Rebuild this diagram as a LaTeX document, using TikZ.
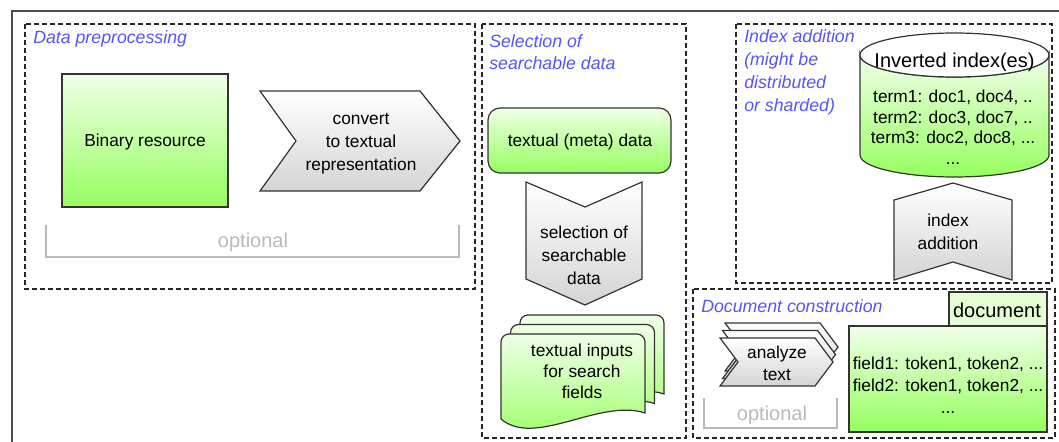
\documentclass[tikz,border=0pt]{standalone}
\usepackage{fontspec}
\setmainfont{Liberation Sans}
\usetikzlibrary{positioning}
\definecolor{titleblue}{RGB}{85,85,250}
\definecolor{greentop}{RGB}{240,255,232}
\definecolor{greenbot}{RGB}{150,255,95}
\definecolor{greybot}{RGB}{212,212,212}
\definecolor{tabgreen}{RGB}{228,255,212}
\definecolor{optgray}{RGB}{185,185,185}

\begin{document}
\begin{tikzpicture}[x=0.75pt, y=-0.75pt, font=\fontsize{13}{16.5}\selectfont,
  group box/.style={draw=black!85, dash pattern=on 3.5pt off 2.5pt, line width=0.8pt},
  group title/.style={anchor=north west, inner sep=0pt, align=left, text=titleblue,
    font=\fontsize{13.3}{17}\selectfont\itshape},
  green fill/.style={draw=black!80, line width=0.9pt, top color=greentop, bottom color=greenbot},
  grey fill/.style={draw=black!80, line width=0.9pt, top color=white, bottom color=greybot},
  step text/.style={align=center, inner sep=0pt},
  optional bar/.style={draw=optgray, line width=2.2pt},
  optional text/.style={text=optgray, inner sep=0pt, font=\fontsize{15}{18}\selectfont}]
\useasboundingbox (0,0) rectangle (1059,442);
% outer frame
\draw[black!70, line width=0.8pt] (12,442) -- (12,11) -- (1059,11);
% groups
\draw[group box] (25,24) rectangle (475,289);
\draw[group box] (482,24) rectangle (686,438);
\draw[group box] (736,24) rectangle (1052,283);
\draw[group box] (693,289) rectangle (1055,438);
\node[group title] (prep-title) at (33,30) {Data preprocessing};
\node[group title] (select-title) at (489,34) {Selection of\\searchable data};
\node[group title, font=\fontsize{13.3}{17.25}\selectfont\itshape] (index-title) at (744,29)
  {Index addition\\(might be\\distributed\\or sharded)};
\node[group title] (doc-title) at (701,299) {Document construction};

% data preprocessing
\node[green fill, minimum width=124.5pt, minimum height=99.75pt] (binary) at (145,140.5) {};
\node[inner sep=0pt] (binary-text) at (145,142) {Binary resource};
\path[grey fill] (260,91) -- (420,91) -- (460,141) -- (420,191) -- (260,191) -- (296,141) -- cycle;
\node[step text, font=\fontsize{13}{17.25}\selectfont] (convert) at (361,144) {convert\\to textual\\representation};
\draw[optional bar] (46,225) -- (46,257) -- (459,257) -- (459,225);
\node[optional text] (prep-optional) at (253,242) {optional};

% selection of searchable data
\node[green fill, rounded corners=9pt, minimum width=137.25pt, minimum height=48.75pt] (meta) at (579.5,140.5) {};
\node[inner sep=0pt] (meta-text) at (580,142) {textual (meta) data};
\path[grey fill] (526,182) -- (585,207) -- (642,182) -- (642,279) -- (585,305) -- (526,279) -- cycle;
\node[step text, font=\fontsize{13}{17.25}\selectfont] (selection) at (584,255) {selection of\\searchable\\data};
\foreach \d in {19,9.5,0}
  \path[green fill, shift={(\d,-\d)}] (501,419) -- (501,342) arc[start angle=180, end angle=270, radius=8]
    -- (637,334) arc[start angle=270, end angle=360, radius=8] -- (645,413)
    .. controls (600,398) and (535,448) .. (501,419) -- cycle;
\node[step text, font=\fontsize{13}{15.75}\selectfont] (inputs) at (582,371) {textual inputs\\for search\\fields};

% index addition
\path[green fill] (860,55) -- (860,155) arc[start angle=180, end angle=0, x radius=94.5, y radius=22]
  -- (1049,55) arc[start angle=0, end angle=180, x radius=94.5, y radius=22] -- cycle;
\draw[draw=black!80, fill=white, line width=0.9pt] (954.5,55) ellipse[x radius=94.5, y radius=22];
\node[inner sep=0pt, font=\fontsize{15}{18}\selectfont] (index-name) at (954.5,62) {Inverted index(es)};
\node[step text, font=\fontsize{13}{15.4}\selectfont] (index-terms) at (953,127)
  {term1: doc1, doc4, ..\\term2: doc3, doc7, ..\\term3: doc2, doc8, ...\\...};
\path[grey fill] (894,200) -- (953,183) -- (1012,200) -- (1012,280) -- (953,262) -- (894,280) -- cycle;
\node[step text, font=\fontsize{13}{17.25}\selectfont] (addition) at (948,232) {index\\addition};

% document construction
\foreach \i in {2,1,0}
  \path[grey fill, shift={(2.5*\i,-7.5*\i)}] (720,338) -- (815,338) -- (833,362) -- (815,386) -- (720,386) -- (738,362) -- cycle;
\node[step text] (analyze) at (777,363) {analyze\\text};
\draw[optional bar] (704,398) -- (704,428) -- (837,428) -- (837,398);
\node[optional text] (doc-optional) at (772,415) {optional};
\node[draw=black!80, line width=0.9pt, fill=tabgreen, minimum width=73.5pt, minimum height=25.5pt] (doc-tab) at (998,309) {};
\node[inner sep=0pt, font=\fontsize{15}{18}\selectfont] (doc-tab-text) at (997,310) {document};
\node[green fill, minimum width=148.5pt, minimum height=79.5pt] (doc-body) at (948,379) {};
\node[step text] (doc-fields) at (948,385) {field1: token1, token2, ...\\field2: token1, token2, ...\\...};
\end{tikzpicture}
\end{document}
